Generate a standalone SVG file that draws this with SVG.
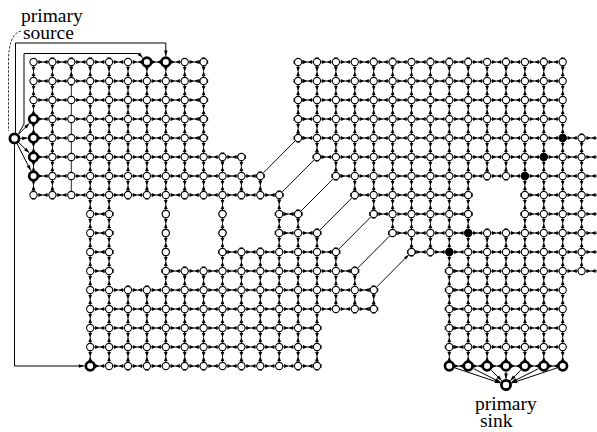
<svg xmlns="http://www.w3.org/2000/svg" width="597" height="432" viewBox="0 0 597 432">
<style>
.e{fill:none;stroke:#000;stroke-width:.05;marker-mid:url(#d)}
.p{fill:none;stroke:#000;stroke-width:.045}
.n{fill:none;stroke:none;marker-start:url(#c);marker-mid:url(#c);marker-end:url(#c)}
.b{fill:#fff;stroke:#000;stroke-width:.14}
.f{fill:#000;stroke:#000;stroke-width:.05}
.g{fill:none;stroke:#000;stroke-width:.05;marker-end:url(#a)}
.k{fill:none;stroke:#000;stroke-width:1;marker-end:url(#ap)}
.s{fill:#fff;stroke:#000;stroke-width:2.8}
text{font-family:"Liberation Serif","Times New Roman",serif;font-size:19.5px;fill:#000}
</style>
<defs>
<marker id="c" markerUnits="userSpaceOnUse" overflow="visible" orient="0"><circle r=".19" fill="#fff" stroke="#000" stroke-width=".055"/></marker>
<marker id="d" markerUnits="userSpaceOnUse" overflow="visible" orient="auto"><path d="M-.24-.1L-.01 0L-.24.1zM.24-.1L.01 0L.24.1z"/></marker>
<marker id="a" markerUnits="userSpaceOnUse" overflow="visible" orient="auto"><path d="M0 0L-.28-.085L-.28.085z"/></marker>
<marker id="ap" markerUnits="userSpaceOnUse" overflow="visible" orient="auto"><path d="M0 0L-5.5-1.8L-5.5 1.8z"/></marker>
</defs>
<g id="connectors">
<g transform="matrix(18.9 0 0 19 33.5 62)">
<path class="e" d="M0 0h.5h1h1h1h1h1h1h1h1h.5M14 0h.5h1h1h1h1h1h1h1h1h1h1h1h1h1h.5"/>
<path class="e" d="M0 1h.5h1h1h1h1h1h1h1h1h.5M14 1h.5h1h1h1h1h1h1h1h1h1h1h1h1h1h.5"/>
<path class="e" d="M0 2h.5h1h1h1h1h1h1h1h1h.5M14 2h.5h1h1h1h1h1h1h1h1h1h1h1h1h1h.5"/>
<path class="e" d="M0 3h.5h1h1h1h1h1h1h1h1h.5M14 3h.5h1h1h1h1h1h1h1h1h1h1h1h1h1h.5"/>
<path class="e" d="M0 4h.5h1h1h1h1h1h1h1h1h.5M14 4h.5h1h1h1h1h1h1h1h1h1h1h1h1h1h1h1h.5"/>
<path class="e" d="M0 5h.5h1h1h1h1h1h1h1h1h1h1h.5M15 5h.5h1h1h1h1h1h1h1h1h1h1h1h1h1h1h.5"/>
<path class="e" d="M0 6h.5h1h1h1h1h1h1h1h1h1h1h1h.5M16 6h.5h1h1h1h1h1h1h1h1h1h1h1h1h1h.5"/>
<path class="e" d="M0 7h.5h1h1h1h1h1h1h1h1h1h1h1h1h.5M17 7h.5h1h1h1h1h1h.5M26 7h.5h1h1h1h.5"/>
<path class="e" d="M3 8h.5h.5M13 8h.5h.5M18 8h.5h1h1h1h1h.5M26 8h.5h1h1h1h.5"/>
<path class="e" d="M3 9h.5h.5M13 9h.5h1h.5M19 9h.5h1h1h1h1h1h1h1h1h1h1h.5"/>
<path class="e" d="M3 10h.5h.5M10 10h.5h1h1h1h1h1h.5M20 10h.5h1h1h1h1h1h1h1h1h1h.5"/>
<path class="e" d="M3 11h.5h.5M7 11h.5h1h1h1h1h1h1h1h1h1h.5M22 11h.5h1h1h1h1h1h1h1h.5"/>
<path class="e" d="M3 12h.5h1h1h1h1h1h1h1h1h1h1h1h1h1h1h.5M22 12h.5h1h1h1h1h1h.5"/>
<path class="e" d="M3 13h.5h1h1h1h1h1h1h1h1h1h1h1h1h1h1h.5M22 13h.5h1h1h1h1h1h.5"/>
<path class="e" d="M3 14h.5h1h1h1h1h1h1h1h1h1h1h1h.5M22 14h.5h1h1h1h1h1h.5"/>
<path class="e" d="M3 15h.5h1h1h1h1h1h1h1h1h1h1h1h.5M22 15h.5h1h1h1h1h1h.5"/>
<path class="e" d="M3 16h.5h1h1h1h1h1h1h1h1h1h1h1h.5M22 16h.5h1h1h1h1h1h.5"/>
<path class="e" d="M0 0v.5v1v1v1v1v1v1v.5M1 0v.5v1v1v1v1v1v1v.5M2 0v.5v.5M3 0v.5v1v1v1v1v1v1v1v1v1v1v1v1v1v1v1v.5M4 0v.5v1v1v1v1v1v1v1v1v1v1v1v1v1v1v1v.5"/>
<path class="p" d="M2 1V7"/>
<path class="e" d="M5 0v.5v1v1v1v1v1v1v.5M5 12v.5v1v1v1v.5M6 0v.5v1v1v1v1v1v1v.5M6 12v.5v1v1v1v.5M7 0v.5v1v1v1v1v1v1v1v1v1v1v1v1v1v1v1v.5"/>
<path class="e" d="M8 0v.5v1v1v1v1v1v1v.5M8 11v.5v1v1v1v1v.5M9 0v.5v1v1v1v1v1v1v.5M9 11v.5v1v1v1v1v.5M10 5v.5v1v1v1v1v1v1v1v1v1v1v.5"/>
<path class="e" d="M11 5v.5v1v.5M11 10v.5v1v1v1v1v1v.5M12 6v.5v.5M12 10v.5v1v1v1v1v1v.5M13 7v.5v1v1v1v1v1v1v1v1v.5"/>
<path class="e" d="M14 0v.5v1v1v1v.5M14 8v.5v1v1v1v1v1v1v1v.5M15 0v.5v1v1v1v1v.5M15 9v.5v1v1v1v1v1v1v.5M16 0v.5v1v1v1v1v1v.5M16 10v.5v1v1v.5"/>
<path class="e" d="M17 0v.5v1v1v1v1v1v1v.5M17 11v.5v1v.5M18 0v.5v1v1v1v1v1v1v1v.5M18 12v.5v.5M19 0v.5v1v1v1v1v1v1v1v1v.5"/>
<path class="e" d="M20 0v.5v1v1v1v1v1v1v1v1v1v.5M21 0v.5v1v1v1v1v1v1v1v1v1v.5M22 0v.5v1v1v1v1v1v1v1v1v1v1v1v1v1v1v1v.5M23 0v.5v1v1v1v1v1v1v1v1v1v1v1v1v1v1v1v.5"/>
<path class="e" d="M24 0v.5v1v1v1v1v1v.5M24 9v.5v1v1v1v1v1v1v.5M25 0v.5v1v1v1v1v1v.5M25 9v.5v1v1v1v1v1v1v.5"/>
<path class="e" d="M26 0v.5v1v1v1v1v1v1v1v1v1v1v1v1v1v1v1v.5M27 0v.5v1v1v1v1v1v1v1v1v1v1v1v1v1v1v1v.5M28 0v.5v1v1v1v1v1v1v1v1v1v1v1v1v1v1v1v.5M29 4v.5v1v1v1v1v1v1v.5"/>
<path class="g" d="M12.13 5.87L13.86 4.14M13.13 6.87L14.86 5.14M14.13 7.87L15.86 6.14M15.13 8.87L16.86 7.14M16.13 9.87L17.86 8.14M17.13 10.87L18.86 9.14M18.13 11.87L19.86 10.14"/>
</g>
<path class="k" d="M18.7 134.2L29.3 123.3"/>
<path class="k" d="M20.5 138.4L27.6 138.1"/>
<path class="k" d="M18.8 142.7L29.2 152.8"/>
<path class="k" d="M17.2 143.9L30.8 170.6"/>
<path class="k" d="M15.5 132.6V43H165.8V56"/>
<path class="k" d="M18.5 133.5L24 124V53.5H138.5L142.7 57.8"/>
<path class="k" d="M14.5 144.5V366H84.3"/>
<path d="M21 31C12 33 8.5 45 8.5 62V131" fill="none" stroke="#000" stroke-width=".8" stroke-dasharray="2.5 1.5"/>
<path class="k" d="M455 367.9L500.3 383.1"/>
<path class="k" d="M473.6 368.7L500.6 382.3"/>
<path class="k" d="M491.3 370.3L501.8 380.7"/>
<path class="k" d="M506 372V379"/>
<path class="k" d="M520.7 370.3L510.2 380.7"/>
<path class="k" d="M538.4 368.7L511.4 382.3"/>
<path class="k" d="M557 367.9L511.7 383.1"/>
</g>
<g id="nodes">
<g id="grid-nodes" transform="matrix(18.9 0 0 19 33.5 62)">
<path class="n" d="M0 0h1h1h1h1h1h1h1h1h1M14 0h1h1h1h1h1h1h1h1h1h1h1h1h1h1"/>
<path class="n" d="M0 1h1h1h1h1h1h1h1h1h1M14 1h1h1h1h1h1h1h1h1h1h1h1h1h1h1"/>
<path class="n" d="M0 2h1h1h1h1h1h1h1h1h1M14 2h1h1h1h1h1h1h1h1h1h1h1h1h1h1"/>
<path class="n" d="M0 3h1h1h1h1h1h1h1h1h1M14 3h1h1h1h1h1h1h1h1h1h1h1h1h1h1"/>
<path class="n" d="M0 4h1h1h1h1h1h1h1h1h1M14 4h1h1h1h1h1h1h1h1h1h1h1h1h1h1h1"/>
<path class="n" d="M0 5h1h1h1h1h1h1h1h1h1h1h1M15 5h1h1h1h1h1h1h1h1h1h1h1h1h1h1"/>
<path class="n" d="M0 6h1h1h1h1h1h1h1h1h1h1h1h1M16 6h1h1h1h1h1h1h1h1h1h1h1h1h1"/>
<path class="n" d="M0 7h1h1h1h1h1h1h1h1h1h1h1h1h1M17 7h1h1h1h1h1h1M26 7h1h1h1"/>
<path class="n" d="M3 8h1M7 8h0M10 8h0M13 8h1M18 8h1h1h1h1h1M26 8h1h1h1"/>
<path class="n" d="M3 9h1M7 9h0M10 9h0M13 9h1h1M19 9h1h1h1h1h1h1h1h1h1h1"/>
<path class="n" d="M3 10h1M7 10h0M10 10h1h1h1h1h1h1M20 10h1h1h1h1h1h1h1h1h1"/>
<path class="n" d="M3 11h1M7 11h1h1h1h1h1h1h1h1h1h1M22 11h1h1h1h1h1h1h1"/>
<path class="n" d="M3 12h1h1h1h1h1h1h1h1h1h1h1h1h1h1h1M22 12h1h1h1h1h1h1"/>
<path class="n" d="M3 13h1h1h1h1h1h1h1h1h1h1h1h1h1h1h1M22 13h1h1h1h1h1h1"/>
<path class="n" d="M3 14h1h1h1h1h1h1h1h1h1h1h1h1M22 14h1h1h1h1h1h1"/>
<path class="n" d="M3 15h1h1h1h1h1h1h1h1h1h1h1h1M22 15h1h1h1h1h1h1"/>
<path class="n" d="M3 16h1h1h1h1h1h1h1h1h1h1h1h1M22 16h1h1h1h1h1h1"/>
<g id="terminal-top"><circle class="b" cx="6" cy="0" r=".23"/><circle class="b" cx="7" cy="0" r=".23"/></g>
<g id="terminal-left"><circle class="b" cx="0" cy="3" r=".23"/><circle class="b" cx="0" cy="4" r=".23"/><circle class="b" cx="0" cy="5" r=".23"/><circle class="b" cx="0" cy="6" r=".23"/></g>
<g id="terminal-bottom-left"><circle class="b" cx="3" cy="16" r=".23"/></g>
<g id="terminal-bottom-right"><circle class="b" cx="22" cy="16" r=".23"/><circle class="b" cx="23" cy="16" r=".23"/><circle class="b" cx="24" cy="16" r=".23"/><circle class="b" cx="25" cy="16" r=".23"/><circle class="b" cx="26" cy="16" r=".23"/><circle class="b" cx="27" cy="16" r=".23"/><circle class="b" cx="28" cy="16" r=".23"/></g>
<g id="filled-nodes"><circle class="f" cx="28" cy="4" r=".19"/><circle class="f" cx="27" cy="5" r=".19"/><circle class="f" cx="26" cy="6" r=".19"/><circle class="f" cx="23" cy="9" r=".19"/><circle class="f" cx="22" cy="10" r=".19"/></g>
</g>
<g id="primary-source"><circle class="s" cx="14.5" cy="138.5" r="4.6"/><text x="21" y="22">primary</text><text x="23" y="39">source</text></g>
<g id="primary-sink"><circle class="s" cx="506" cy="385" r="4.6"/><text x="475" y="410">primary</text><text x="480" y="427">sink</text></g>
</g>
</svg>
